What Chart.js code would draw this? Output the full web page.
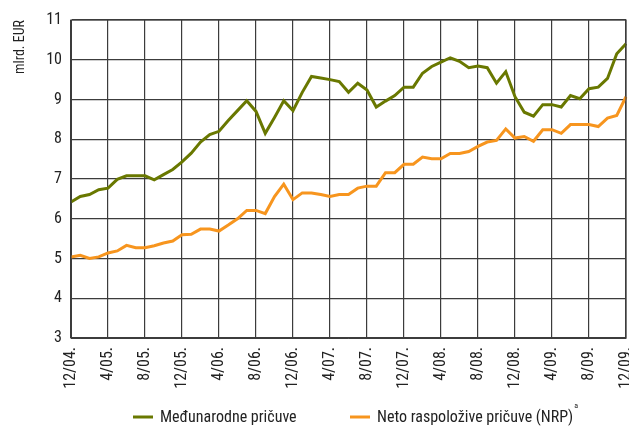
<!DOCTYPE html>
<html>
<head>
<meta charset="utf-8">
<script src="https://cdn.jsdelivr.net/npm/chart.js@4/dist/chart.umd.min.js"></script>
<style>
html,body{margin:0;padding:0;background:#fff;}
#wrap{width:629px;height:426px;}
</style>
</head>
<body>
<div id="wrap"><canvas id="c" width="629" height="426"></canvas></div>
<script>
const months = [
 "12/04.","1/05.","2/05.","3/05.","4/05.","5/05.","6/05.","7/05.","8/05.","9/05.","10/05.","11/05.",
 "12/05.","1/06.","2/06.","3/06.","4/06.","5/06.","6/06.","7/06.","8/06.","9/06.","10/06.","11/06.",
 "12/06.","1/07.","2/07.","3/07.","4/07.","5/07.","6/07.","7/07.","8/07.","9/07.","10/07.","11/07.",
 "12/07.","1/08.","2/08.","3/08.","4/08.","5/08.","6/08.","7/08.","8/08.","9/08.","10/08.","11/08.",
 "12/08.","1/09.","2/09.","3/09.","4/09.","5/09.","6/09.","7/09.","8/09.","9/09.","10/09.","11/09.",
 "12/09."
];
const medunarodnePricuve = [
 6.42,6.56,6.61,6.73,6.77,6.99,7.08,7.08,7.08,6.98,7.11,7.24,
 7.43,7.65,7.93,8.12,8.20,8.47,8.72,8.97,8.70,8.15,8.55,8.97,
 8.72,9.18,9.58,9.54,9.50,9.45,9.18,9.41,9.24,8.81,8.96,9.10,
 9.31,9.31,9.66,9.83,9.94,10.05,9.96,9.80,9.84,9.80,9.41,9.70,
 9.07,8.68,8.58,8.87,8.87,8.81,9.10,9.02,9.27,9.31,9.53,10.15,
 10.40
];
const netoRaspolozivePricuve = [
 5.04,5.08,5.00,5.04,5.14,5.19,5.33,5.27,5.27,5.32,5.39,5.44,
 5.60,5.61,5.74,5.74,5.69,5.84,6.00,6.21,6.21,6.13,6.56,6.87,
 6.48,6.65,6.65,6.61,6.56,6.61,6.61,6.77,6.82,6.82,7.16,7.16,
 7.37,7.37,7.55,7.51,7.51,7.64,7.64,7.69,7.82,7.93,7.97,8.26,
 8.03,8.07,7.95,8.24,8.24,8.15,8.37,8.37,8.37,8.32,8.53,8.60,
 9.07
];
const seriesNames = ["Međunarodne pričuve","Neto raspoložive pričuve (NRP)"];
const seriesColors = ['#697800', '#f7951e'];
const footnoteMark = "a";
const yAxisTitle = "mlrd. EUR";
const yMin = 3, yMax = 11;

const FONT = "'Liberation Sans Narrow','Roboto Condensed','Liberation Sans',Arial,sans-serif";
const GRID = '#3c3c3c';
const LEGEND_SIZE = 16;

const legendLayout = {y: 417, items: [{x: 133}, {x: 350}], markerLen: 20, gap: 7};

new Chart(document.getElementById('c'), {
  type: 'line',
  data: {
    labels: months,
    datasets: [
      {label: seriesNames[0], data: medunarodnePricuve, borderColor: seriesColors[0], backgroundColor: seriesColors[0],
       borderWidth: 3, pointRadius: 0, tension: 0, fill: false},
      {label: seriesNames[1], data: netoRaspolozivePricuve, borderColor: seriesColors[1], backgroundColor: seriesColors[1],
       borderWidth: 3, pointRadius: 0, tension: 0, fill: false}
    ]
  },
  options: {
    responsive: false,
    animation: false,
    devicePixelRatio: 1,
    layout: {padding: {top: 20, right: 3, left: 0, bottom: 38}},
    plugins: {
      tooltip: {enabled: false},
      legend: {display: false}
    },
    scales: {
      x: {
        type: 'category',
        offset: false,
        border: {display: true, color: GRID, width: 1},
        grid: {
          drawTicks: false,
          lineWidth: 1.2,
          color: (ctx) => (ctx.index % 4 === 0 ? GRID : 'rgba(0,0,0,0)')
        },
        ticks: {
          autoSkip: false, maxRotation: 90, minRotation: 90, padding: 9,
          color: '#222', font: {family: FONT, size: 16},
          callback: function(v, i){ return i % 4 === 0 ? months[i] : ''; }
        },
        afterFit: (s) => { s.height = 50; s.paddingRight = 0; s.paddingLeft = 0; }
      },
      y: {
        min: yMin, max: yMax,
        border: {display: true, color: GRID, width: 1},
        grid: {drawTicks: false, lineWidth: 1.2, color: GRID},
        ticks: {stepSize: 1, padding: 9, color: '#222', font: {family: FONT, size: 16}},
        title: {display: true, text: yAxisTitle, align: 'end', color: '#222',
                font: {family: FONT, size: 14}, padding: {top: 12, bottom: 0}},
        afterFit: (s) => { s.width = 71; }
      }
    }
  },
  plugins: [{
    id: 'frameAndLegend',
    afterDraw(chart){
      const a = chart.chartArea, c = chart.ctx;
      c.save();
      c.strokeStyle = GRID; c.lineWidth = 1.2;
      c.strokeRect(a.left, a.top, a.right - a.left, a.bottom - a.top);
      c.font = LEGEND_SIZE + 'px ' + FONT;
      c.textBaseline = 'middle';
      c.fillStyle = '#222';
      legendLayout.items.forEach((it, i) => {
        c.strokeStyle = seriesColors[i];
        c.lineWidth = 3;
        c.beginPath();
        c.moveTo(it.x, legendLayout.y);
        c.lineTo(it.x + legendLayout.markerLen, legendLayout.y);
        c.stroke();
        const tx = it.x + legendLayout.markerLen + legendLayout.gap;
        c.font = LEGEND_SIZE + 'px ' + FONT;
        c.fillText(seriesNames[i], tx, legendLayout.y + 1);
        if (i === 1) {
          const tw = c.measureText(seriesNames[i]).width;
          c.font = '8px ' + FONT;
          c.textBaseline = 'top';
          c.fillText(footnoteMark, tx + tw + 1, legendLayout.y - 15);
          c.textBaseline = 'middle';
        }
      });
      c.restore();
    }
  }]
});
</script>
</body>
</html>
